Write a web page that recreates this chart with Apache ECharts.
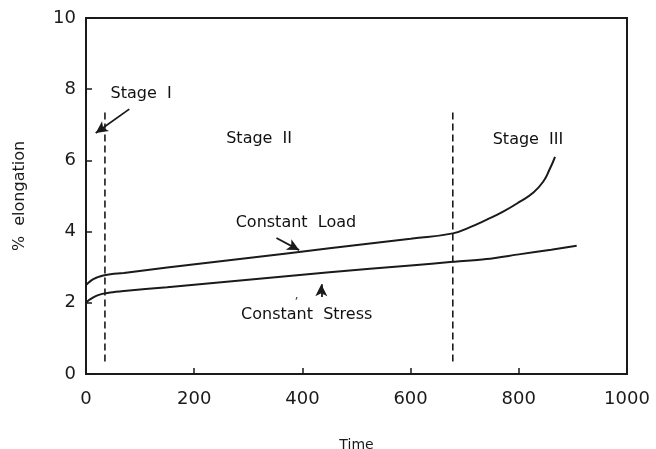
<!DOCTYPE html>
<html><head><meta charset="utf-8">
<script src="https://cdn.jsdelivr.net/npm/echarts@6/dist/echarts.min.js"></script>
<style>html,body{margin:0;padding:0;background:#fff}#c{width:656px;height:449px}</style>
</head><body><div id="c"></div>
<script>
// Constant Load curve
const loadX = [0, 5, 12, 20, 30, 45, 70, 150, 300, 450, 600, 678, 709, 740, 771, 802, 827, 845, 857, 867];
const loadY = [2.5, 2.57, 2.65, 2.71, 2.76, 2.8, 2.84, 2.99, 3.26, 3.53, 3.8, 3.95, 4.12, 4.33, 4.56, 4.84, 5.1, 5.4, 5.75, 6.1];
// Constant Stress curve
const stressX = [0, 5, 12, 20, 30, 45, 70, 150, 300, 450, 600, 678, 740, 800, 860, 907];
const stressY = [2.0, 2.07, 2.14, 2.2, 2.25, 2.29, 2.33, 2.44, 2.65, 2.86, 3.05, 3.15, 3.23, 3.36, 3.49, 3.6];
// Stage boundaries (dashed lines)
const stageBoundX = [35, 678];
const stageBoundY = [0.35, 7.4];
// Axis ticks
const xTicks = [0, 200, 400, 600, 800, 1000];
const yTicks = [0, 2, 4, 6, 8, 10];
// Annotations: [x, y, text]
const labels = [
  [102, 7.87, 'Stage  I'],
  [320, 6.6, 'Stage  II'],
  [817, 6.57, 'Stage  III'],
  [388, 4.24, 'Constant  Load'],
  [408, 1.66, 'Constant  Stress']
];
// Arrows: [x1, y1, x2, y2]
const arrows = [
  [80, 7.44, 18, 6.77],
  [352, 3.82, 394, 3.48],
  [435, 2.16, 435, 2.52]
];
const commaMark = [389, 2.2];

const ink = '#1a1a1a';
const font = 'DejaVu Sans';
const chart = echarts.init(document.getElementById('c'));
const zip = (a, b) => a.map((v, i) => [v, b[i]]);

const series = [
  {type: 'line', data: zip(loadX, loadY), smooth: 0.5, showSymbol: false, lineStyle: {color: ink, width: 2}, z: 5},
  {type: 'line', data: zip(stressX, stressY), smooth: 0.3, showSymbol: false, lineStyle: {color: ink, width: 2}, z: 5}
];
stageBoundX.forEach(x => series.push({
  type: 'line', data: [[x, stageBoundY[0]], [x, stageBoundY[1]]], showSymbol: false,
  lineStyle: {color: ink, width: 1.6, type: [7, 4]}
}));
series.push({
  type: 'line', data: [], markLine: {
    silent: true, symbol: ['none', 'arrow'], symbolSize: [9, 12],
    lineStyle: {color: ink, width: 1.8, type: 'solid'}, label: {show: false},
    data: arrows.map(a => [{coord: [a[0], a[1]]}, {coord: [a[2], a[3]]}])
  }
});
series.push({
  type: 'scatter', symbolSize: 0, data: labels.map(l => ({value: [l[0], l[1]], name: l[2]})),
  label: {show: true, position: 'inside', formatter: '{b}', color: '#111', fontFamily: font, fontSize: 16, textBorderWidth: 0, opacity: 1}
});
series.push({
  type: 'scatter', symbolSize: 0, data: [{value: commaMark, name: ','}],
  label: {show: true, position: 'inside', formatter: '{b}', color: ink, fontFamily: font, fontSize: 13, textBorderWidth: 0}
});

chart.setOption({
  animation: false,
  grid: {left: 86, right: 29, top: 18, bottom: 75, show: true, borderColor: ink, borderWidth: 2, outerBoundsMode: 'none', containLabel: false},
  xAxis: {
    type: 'value', min: 0, max: 1000, interval: 200, name: 'Time', nameLocation: 'middle', nameGap: 64,
    nameTextStyle: {color: ink, fontFamily: font, fontSize: 14},
    axisLine: {show: true, lineStyle: {color: ink, width: 2}},
    axisTick: {show: true, inside: true, length: 6, lineStyle: {color: ink, width: 1.5}, customValues: xTicks},
    axisLabel: {color: ink, fontFamily: font, fontSize: 18, margin: 16, customValues: xTicks, formatter: v => String(v)},
    splitLine: {show: false}
  },
  yAxis: {
    type: 'value', min: 0, max: 10, interval: 2, name: '%  elongation', nameLocation: 'middle', nameGap: 58,
    nameTextStyle: {color: ink, fontFamily: font, fontSize: 16},
    axisLine: {show: true, lineStyle: {color: ink, width: 2}},
    axisTick: {show: true, inside: true, length: 6, lineStyle: {color: ink, width: 1.5}, customValues: yTicks},
    axisLabel: {color: ink, fontFamily: font, fontSize: 18, margin: 10, customValues: yTicks, formatter: v => String(v)},
    splitLine: {show: false}
  },
  series: series
});
</script></body></html>
